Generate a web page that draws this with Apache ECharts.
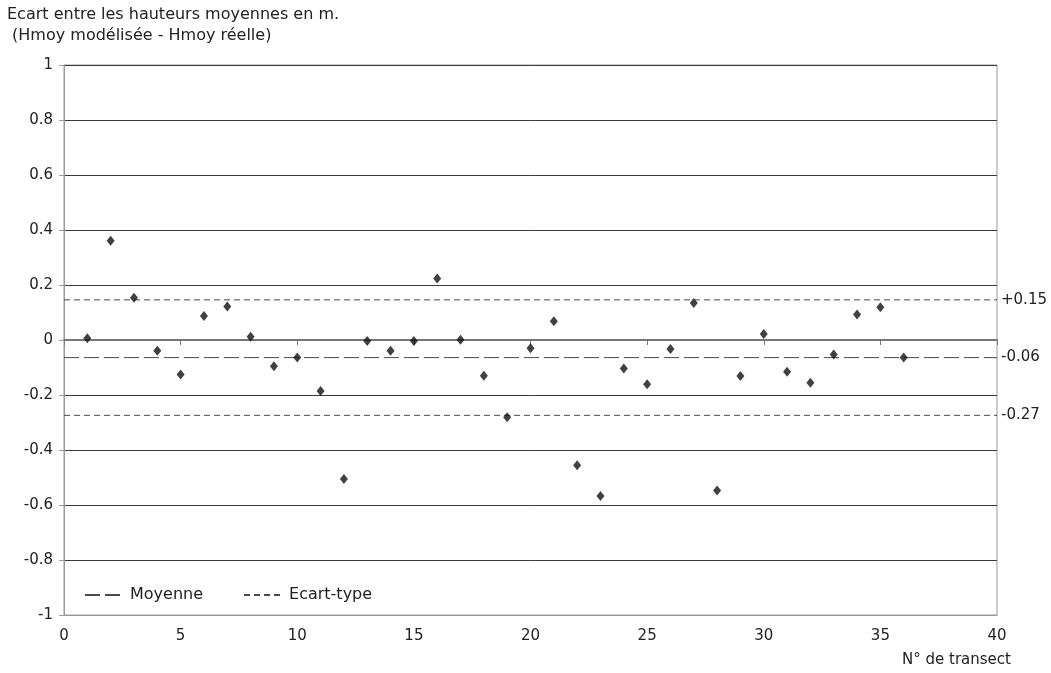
<!DOCTYPE html>
<html><head><meta charset="utf-8">
<script src="https://cdn.jsdelivr.net/npm/echarts@6/dist/echarts.min.js"></script>
<style>html,body{margin:0;padding:0;background:#fff}#c{width:1051px;height:673px}</style>
</head><body><div id="c"></div>
<script>
const transects = [1,2,3,4,5,6,7,8,9,10,11,12,13,14,15,16,17,18,19,20,21,22,23,24,25,26,27,28,29,30,31,32,33,34,35,36];
const ecarts = [0.006,0.361,0.154,-0.039,-0.125,0.087,0.122,0.012,-0.095,-0.064,-0.185,-0.505,-0.004,-0.039,-0.004,0.224,0.001,-0.130,-0.281,-0.030,0.068,-0.455,-0.567,-0.104,-0.161,-0.033,0.135,-0.547,-0.131,0.022,-0.115,-0.155,-0.053,0.093,0.119,-0.064];
const moyenne = -0.064;
const ecartType = 0.21;
const xRange = [0, 40];
const yRange = [-1, 1];
const titleLines = ['Ecart entre les hauteurs moyennes en m.', ' (Hmoy modélisée - Hmoy réelle)'];
const xName = 'N° de transect';

const FONT = '"DejaVu Sans", "Liberation Sans", Arial, sans-serif';
const TXT = '#222';
const pts = transects.map((t, i) => [t, ecarts[i]]);
const up = moyenne + ecartType, lo = moyenne - ecartType;
const fmt = v => (v >= 0 ? '+' : '') + v.toFixed(2);
function hline(name, y, dash, label) {
  return {
    name: name, type: 'line', xAxisIndex: 0, yAxisIndex: 0,
    data: [[xRange[0], y], [xRange[1], y]],
    symbol: 'none', showSymbol: false, silent: true, z: 3,
    lineStyle: { color: '#4a4a4a', width: 1, type: dash },
    itemStyle: { color: '#4a4a4a' },
    endLabel: { show: true, formatter: label, color: TXT, fontSize: 15, fontFamily: FONT, distance: 4 }
  };
}
const chart = echarts.init(document.getElementById('c'), null, { renderer: 'canvas' });
chart.setOption({
  animation: false,
  backgroundColor: '#fff',
  textStyle: { fontFamily: FONT },
  grid: { left: 64, right: 54, top: 65, bottom: 58, show: true, borderColor: '#9a9a9a', borderWidth: 1 },
  graphic: [
    { type: 'text', left: 7, top: 7, style: { text: titleLines[0], font: '16px ' + FONT, fill: TXT } },
    { type: 'text', left: 7, top: 28, style: { text: titleLines[1], font: '16px ' + FONT, fill: TXT } },
    { type: 'text', left: 902, top: 653, style: { text: xName, font: '15px ' + FONT, fill: TXT } }
  ],
  legend: {
    left: 79, top: 582, itemWidth: 40, itemHeight: 14, itemGap: 40,
    data: ['Moyenne', 'Ecart-type'],
    itemStyle: { opacity: 0 },
    textStyle: { fontSize: 16, color: TXT, fontFamily: FONT }
  },
  xAxis: [
    {
      type: 'value', min: xRange[0], max: xRange[1], interval: 5, position: 'bottom',
      axisLine: { show: true, onZero: false, lineStyle: { color: '#9a9a9a' } },
      axisTick: { show: false },
      axisLabel: { show: true, color: TXT, fontSize: 15, margin: 14, fontFamily: FONT },
      splitLine: { show: false }
    },
    {
      type: 'value', min: xRange[0], max: xRange[1], interval: 5, position: 'top',
      axisLine: { show: true, onZero: true, lineStyle: { color: '#777', width: 2 } },
      axisTick: { show: true, inside: true, length: 5, lineStyle: { color: '#777' } },
      axisLabel: { show: false },
      splitLine: { show: false }
    }
  ],
  yAxis: {
    type: 'value', min: yRange[0], max: yRange[1], interval: 0.2,
    axisLine: { show: true, onZero: false, lineStyle: { color: '#9a9a9a' } },
    axisTick: { show: true, length: 5, lineStyle: { color: '#9a9a9a' } },
    axisLabel: { color: TXT, fontSize: 15, margin: 11, fontFamily: FONT,
      formatter: v => String(+v.toFixed(1)) },
    splitLine: { show: true, lineStyle: { color: '#3a3a3a', width: 1 } }
  },
  series: [
    {
      name: 'points', type: 'scatter', data: pts, symbol: 'diamond', symbolSize: [8, 10],
      itemStyle: { color: '#111' }, z: 5
    },
    hline('Moyenne', moyenne, [15, 5], fmt(moyenne)),
    hline('Ecart-type', up, [6, 4], fmt(up)),
    hline('Ecart-type', lo, [6, 4], fmt(lo))
  ]
});
</script></body></html>
